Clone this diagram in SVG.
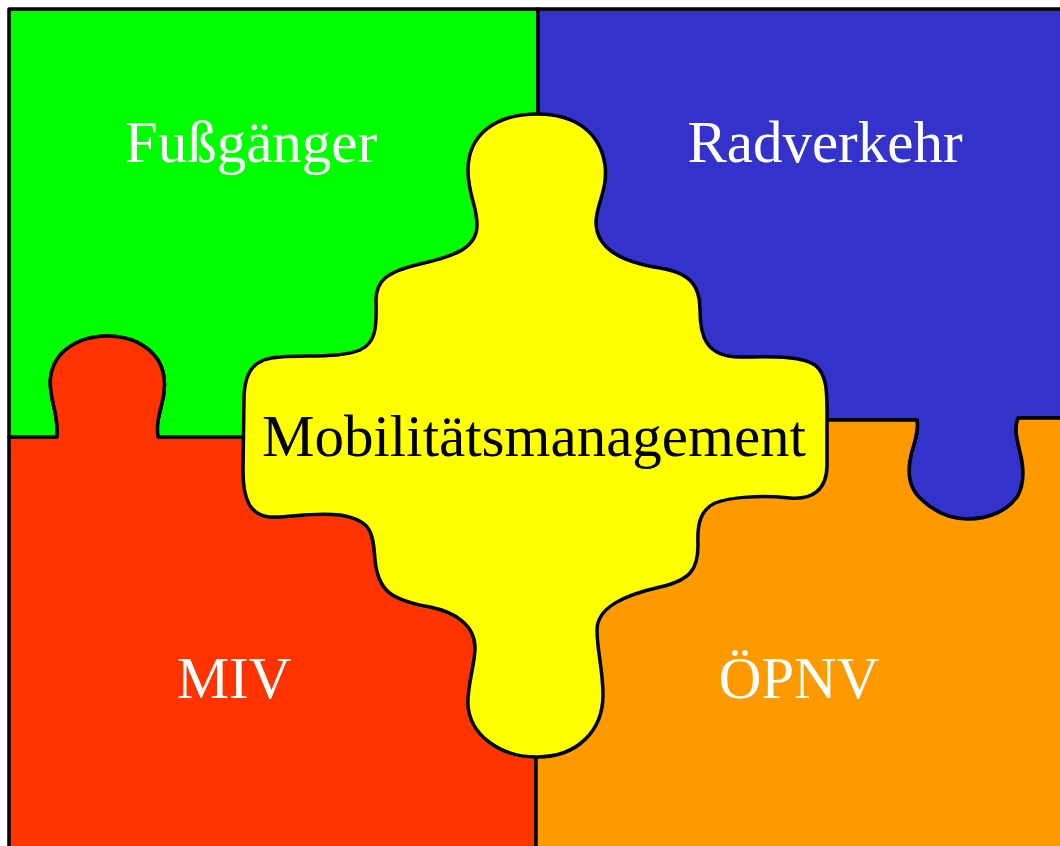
<svg xmlns="http://www.w3.org/2000/svg" width="1060" height="846" viewBox="0 0 1060 846">
<style>
.piece{stroke:#000;stroke-width:3.5;stroke-linejoin:round}
.lbl{font-family:"Liberation Serif","Times New Roman",serif;font-size:59px;text-anchor:middle}
.w{fill:#fff}
.k{fill:#000}
</style>
<rect x="0" y="0" width="1060" height="846" fill="#fff"/>
<g id="fussgaenger">
<path class="piece" fill="#00ff00" d="M9,9 H538 V437 H158 C156,425 159,415 162,403 C166,387 166,373 158,360 C148,345 130,336 108,336 C88,336 72,342 60,355 C48,370 49,385 53,403 C56,415 58,425 57,437 H9 Z"/>
<text class="lbl w" x="251" y="162">Fußgänger</text>
</g>
<g id="radverkehr">
<path class="piece" fill="#3333cc" d="M538,9 H1064 V418 H1018 C1014,428 1017,440 1020,452 C1024,468 1025,484 1017,497 C1008,510 990,519 968,519 C950,519 935,512 922,500 C908,488 907,472 911,455 C914,443 919,432 917,420 H538 Z"/>
<text class="lbl w" x="825" y="162">Radverkehr</text>
</g>
<g id="miv">
<path class="piece" fill="#ff3300" d="M9,437 H57 C58,425 56,415 53,403 C49,385 48,370 60,355 C72,342 88,336 108,336 C130,336 148,345 158,360 C166,373 166,387 162,403 C159,415 156,425 158,437 H536 V850 H9 Z"/>
<text class="lbl w" x="234" y="698">MIV</text>
</g>
<g id="oepnv">
<path class="piece" fill="#ff9900" d="M536,420 H917 C919,432 914,443 911,455 C907,472 908,488 922,500 C935,512 950,519 968,519 C990,519 1008,510 1017,497 C1025,484 1024,468 1020,452 C1017,440 1014,428 1018,418 H1064 V850 H536 Z"/>
<text class="lbl w" x="799" y="698">ÖPNV</text>
</g>
<g id="mobilitaetsmanagement">
<path class="piece" fill="#ffff00" d="M537,114 C575,114 600,132 605,165 C608,190 596,205 596,222 C596,248 620,262 660,268 C690,273 700,285 700,310 C700,335 705,357 740,357 C770,357 800,355 815,365 C828,375 827,395 827,420 L827,465 C827,490 812,500 790,498 C760,495 730,497 715,503 C700,510 697,525 698,545 C698,570 690,580 660,587 C625,595 597,607 597,630 C597,650 603,670 603,695 C603,730 578,757 537,757 C500,757 470,735 468,705 C467,685 475,665 475,648 C475,625 455,612 430,607 C390,600 378,590 375,560 C373,530 370,520 340,515 C310,512 290,518 270,517 C250,515 243,500 243,470 L244,400 C244,370 255,358 280,357 C310,355 340,358 360,350 C375,343 377,330 376,300 C376,282 385,272 420,264 C455,256 477,248 477,225 C477,205 468,195 468,170 C468,135 495,114 537,114 Z"/>
<text class="lbl k" x="534" y="456">Mobilitätsmanagement</text>
</g>
<g id="connectors"></g>
</svg>
